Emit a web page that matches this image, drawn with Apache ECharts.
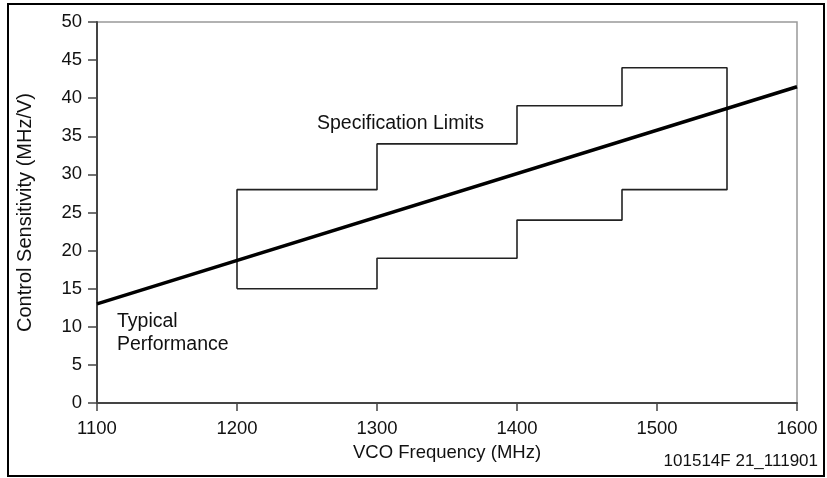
<!DOCTYPE html>
<html><head><meta charset="utf-8">
<script src="https://cdn.jsdelivr.net/npm/echarts@6/dist/echarts.min.js"></script>
<style>html,body{margin:0;padding:0;background:#fff}#c{width:827px;height:478px}</style>
</head><body><div id="c"></div>
<script>
// Data
const typicalFreq = [1100, 1600];
const typicalSens = [13, 41.5];
const specFreq = [1200, 1200, 1300, 1300, 1400, 1400, 1475, 1475, 1550, 1550, 1475, 1475, 1400, 1400, 1300, 1300, 1200];
const specSens = [15, 28, 28, 34, 34, 39, 39, 44, 44, 28, 28, 24, 24, 19, 19, 15, 15];
const xTicks = [1100, 1200, 1300, 1400, 1500, 1600];
const yTicks = [0, 5, 10, 15, 20, 25, 30, 35, 40, 45, 50];

const font = 'Liberation Sans, Arial, sans-serif';
const chart = echarts.init(document.getElementById('c'), null, {renderer: 'canvas'});
chart.setOption({
  animation: false,
  backgroundColor: '#fff',
  grid: {left: 97, right: 30, top: 22, bottom: 75, show: true, borderColor: '#999', borderWidth: 1.5, backgroundColor: 'transparent'},
  xAxis: {
    type: 'value', min: xTicks[0], max: xTicks[xTicks.length - 1], interval: 100,
    axisLine: {show: true, lineStyle: {color: '#444', width: 2}},
    axisTick: {show: true, length: 8, lineStyle: {color: '#444', width: 1.5}},
    axisLabel: {color: '#111', fontSize: 18.5, fontFamily: font, margin: 16, formatter: v => String(v)},
    splitLine: {show: false},
    name: 'VCO Frequency (MHz)', nameLocation: 'middle', nameGap: 40,
    nameTextStyle: {color: '#111', fontSize: 18.5, fontFamily: font}
  },
  yAxis: {
    type: 'value', min: yTicks[0], max: yTicks[yTicks.length - 1], interval: 5,
    axisLine: {show: true, lineStyle: {color: '#444', width: 2}},
    axisTick: {show: true, length: 9, lineStyle: {color: '#444', width: 1.5}},
    axisLabel: {color: '#111', fontSize: 18.5, fontFamily: font, margin: 15},
    splitLine: {show: false},
    name: 'Control Sensitivity (MHz/V)', nameLocation: 'middle', nameGap: 62,
    nameTextStyle: {color: '#111', fontSize: 20, fontFamily: font}
  },
  series: [
    {type: 'line', data: specFreq.map((f, i) => [f, specSens[i]]), symbol: 'none',
     lineStyle: {color: '#222', width: 1.6}, z: 2},
    {type: 'line', data: typicalFreq.map((f, i) => [f, typicalSens[i]]), symbol: 'none',
     lineStyle: {color: '#000', width: 3.5}, z: 3}
  ],
  graphic: [
    {type: 'rect', shape: {x: 8, y: 4, width: 816, height: 472}, style: {fill: 'none', stroke: '#000', lineWidth: 2}, silent: true},
    {type: 'text', left: 317, top: 114, style: {text: 'Specification Limits', fontSize: 19.5, fontFamily: font, fill: '#111'}},
    {type: 'text', left: 117, top: 310, style: {text: 'Typical\nPerformance', fontSize: 19.5, lineHeight: 23, fontFamily: font, fill: '#111'}},
    {type: 'text', right: 9, top: 453, style: {text: '101514F 21_111901', fontSize: 17, fontFamily: font, fill: '#111'}}
  ]
});
</script></body></html>
